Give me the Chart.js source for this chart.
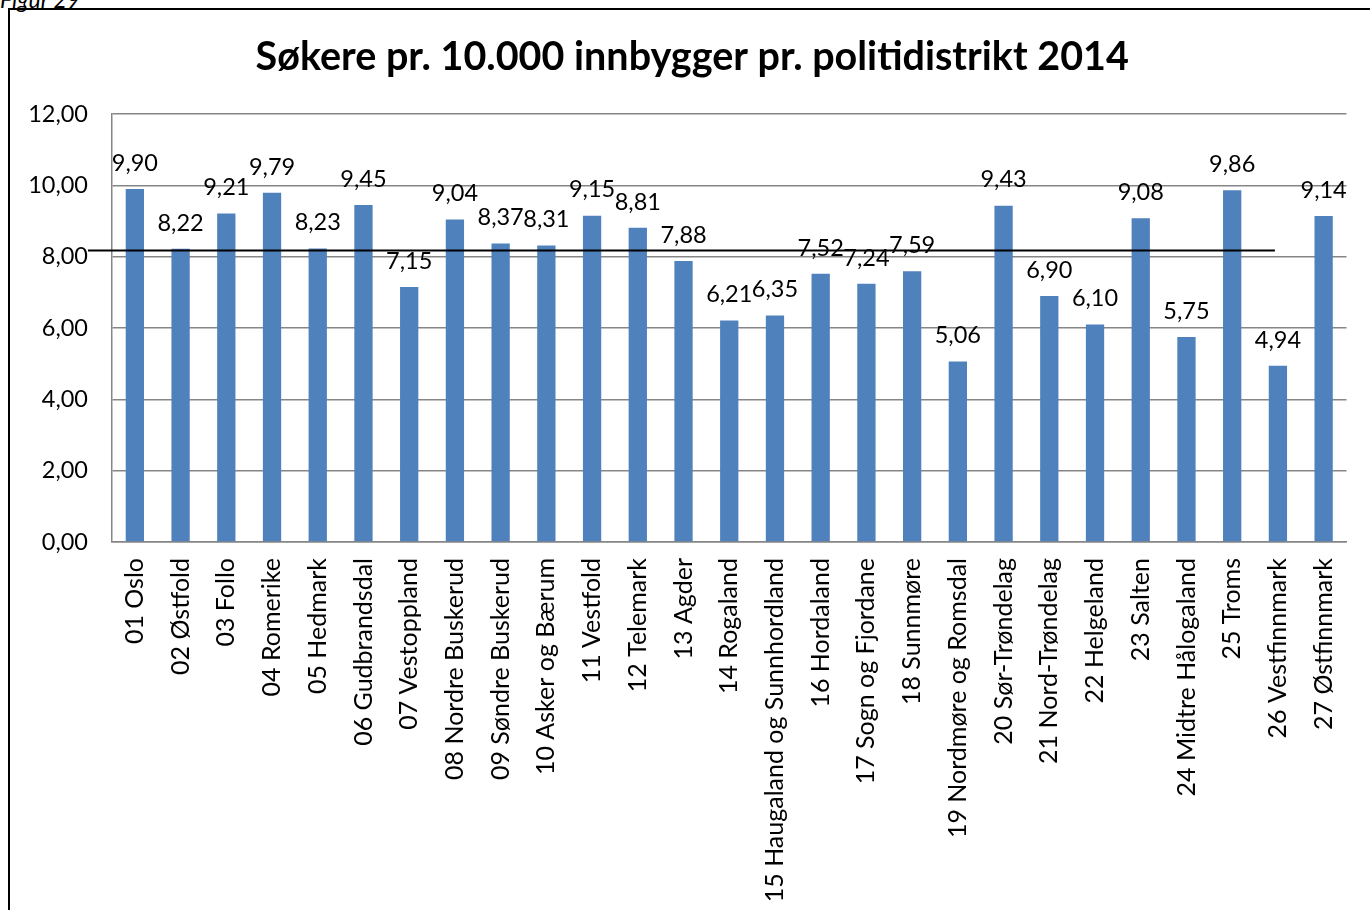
<!DOCTYPE html>
<html>
<head>
<meta charset="utf-8">
<script src="https://cdn.jsdelivr.net/npm/chart.js@4/dist/chart.umd.min.js"></script>
<style>
  body { margin: 0; background: #fff; overflow: hidden; }
  #wrap { position: relative; width: 1370px; height: 910px; }
  #frame { position: absolute; left: 8px; top: 8px; width: 1400px; height: 960px; border: 2px solid #000; box-sizing: border-box; }
  #fig { position: absolute; left: 0; top: -15px; font: italic 23px Lato, sans-serif; color: #000; }
  canvas { position: absolute; left: 0; top: 0; }
</style>
</head>
<body>
<div id="wrap">
  <div id="fig">Figur 29</div>
  <div id="frame"></div>
  <canvas id="chart" width="1370" height="910"></canvas>
</div>
<script>
// politidistrikt
const districts = [
  '01 Oslo', '02 Østfold', '03 Follo', '04 Romerike', '05 Hedmark',
  '06 Gudbrandsdal', '07 Vestoppland', '08 Nordre Buskerud', '09 Søndre Buskerud',
  '10 Asker og Bærum', '11 Vestfold', '12 Telemark', '13 Agder', '14 Rogaland',
  '15 Haugaland og Sunnhordland', '16 Hordaland', '17 Sogn og Fjordane', '18 Sunnmøre',
  '19 Nordmøre og Romsdal', '20 Sør-Trøndelag', '21 Nord-Trøndelag', '22 Helgeland',
  '23 Salten', '24 Midtre Hålogaland', '25 Troms', '26 Vestfinnmark', '27 Østfinnmark'
];
const applicants = [
  9.90, 8.22, 9.21, 9.79, 8.23, 9.45, 7.15, 9.04, 8.37,
  8.31, 9.15, 8.81, 7.88, 6.21, 6.35, 7.52, 7.24, 7.59,
  5.06, 9.43, 6.90, 6.10, 9.08, 5.75, 9.86, 4.94, 9.14
];
const avgLine = [8.17]; // landsgjennomsnitt (strek)
const yTicks = [0, 2, 4, 6, 8, 10, 12];
const chartTitle = 'Søkere pr. 10.000 innbygger pr. politidistrikt 2014';

const fontFam = 'Lato, "Open Sans", sans-serif';
const fmt = v => v.toFixed(2).replace('.', ',');

// tittel - litt til høyre for midten, som i Excel-figuren
const titlePlugin = {
  id: 'titlePlugin',
  afterDraw(chart) {
    const ctx = chart.ctx;
    ctx.save();
    ctx.font = 'bold 39.5px ' + fontFam;
    ctx.fillStyle = '#000';
    ctx.textAlign = 'center';
    ctx.textBaseline = 'middle';
    ctx.fillText(chartTitle, (chart.chartArea.left + chart.chartArea.right) / 2 - 37, 57);
    ctx.restore();
  }
};

// verdier over søylene
const barLabels = {
  id: 'barLabels',
  afterDatasetsDraw(chart) {
    const ctx = chart.ctx;
    const meta = chart.getDatasetMeta(0);
    ctx.save();
    ctx.font = '23.5px ' + fontFam;
    ctx.fillStyle = '#000';
    ctx.textAlign = 'center';
    ctx.textBaseline = 'bottom';
    meta.data.forEach((bar, i) => {
      ctx.fillText(fmt(applicants[i]), bar.x, bar.y - 14);
    });
    ctx.restore();
  }
};

// svart snittstrek
const avgPlugin = {
  id: 'avgPlugin',
  afterDatasetsDraw(chart) {
    const { ctx, chartArea, scales } = chart;
    const y = scales.y.getPixelForValue(avgLine[0]);
    ctx.save();
    ctx.strokeStyle = '#000';
    ctx.lineWidth = 2;
    ctx.beginPath();
    ctx.moveTo(chartArea.left - 24, y);
    ctx.lineTo(scales.x.getPixelForValue(25) - 3, y);
    ctx.stroke();
    ctx.restore();
  }
};

new Chart(document.getElementById('chart'), {
  type: 'bar',
  data: {
    labels: districts,
    datasets: [{
      data: applicants,
      backgroundColor: '#4F81BD',
      borderWidth: 0,
      barPercentage: 0.4,
      categoryPercentage: 1
    }]
  },
  options: {
    responsive: false,
    animation: false,
    layout: { padding: { left: 0, right: 20, top: 114, bottom: 0 } },
    plugins: {
      legend: { display: false },
      tooltip: { enabled: false }
    },
    scales: {
      x: {
        grid: { display: false, drawTicks: false },
        border: { color: '#868686', width: 1.5 },
        ticks: {
          color: '#000',
          font: { family: fontFam, size: 25 },
          minRotation: 90,
          maxRotation: 90,
          autoSkip: false,
          padding: 16
        },
        afterFit(scale) { scale.height = 368; }
      },
      y: {
        min: 0,
        max: 12,
        afterBuildTicks(scale) { scale.ticks = yTicks.map(v => ({ value: v })); },
        grid: { color: '#868686', lineWidth: 1.5, drawTicks: false },
        border: { color: '#868686', width: 1.5 },
        ticks: {
          color: '#000',
          font: { family: fontFam, size: 23.5 },
          padding: 24,
          callback: v => fmt(v)
        },
        afterFit(scale) { scale.width = 112; }
      }
    }
  },
  plugins: [titlePlugin, barLabels, avgPlugin]
});
</script>
</body>
</html>
